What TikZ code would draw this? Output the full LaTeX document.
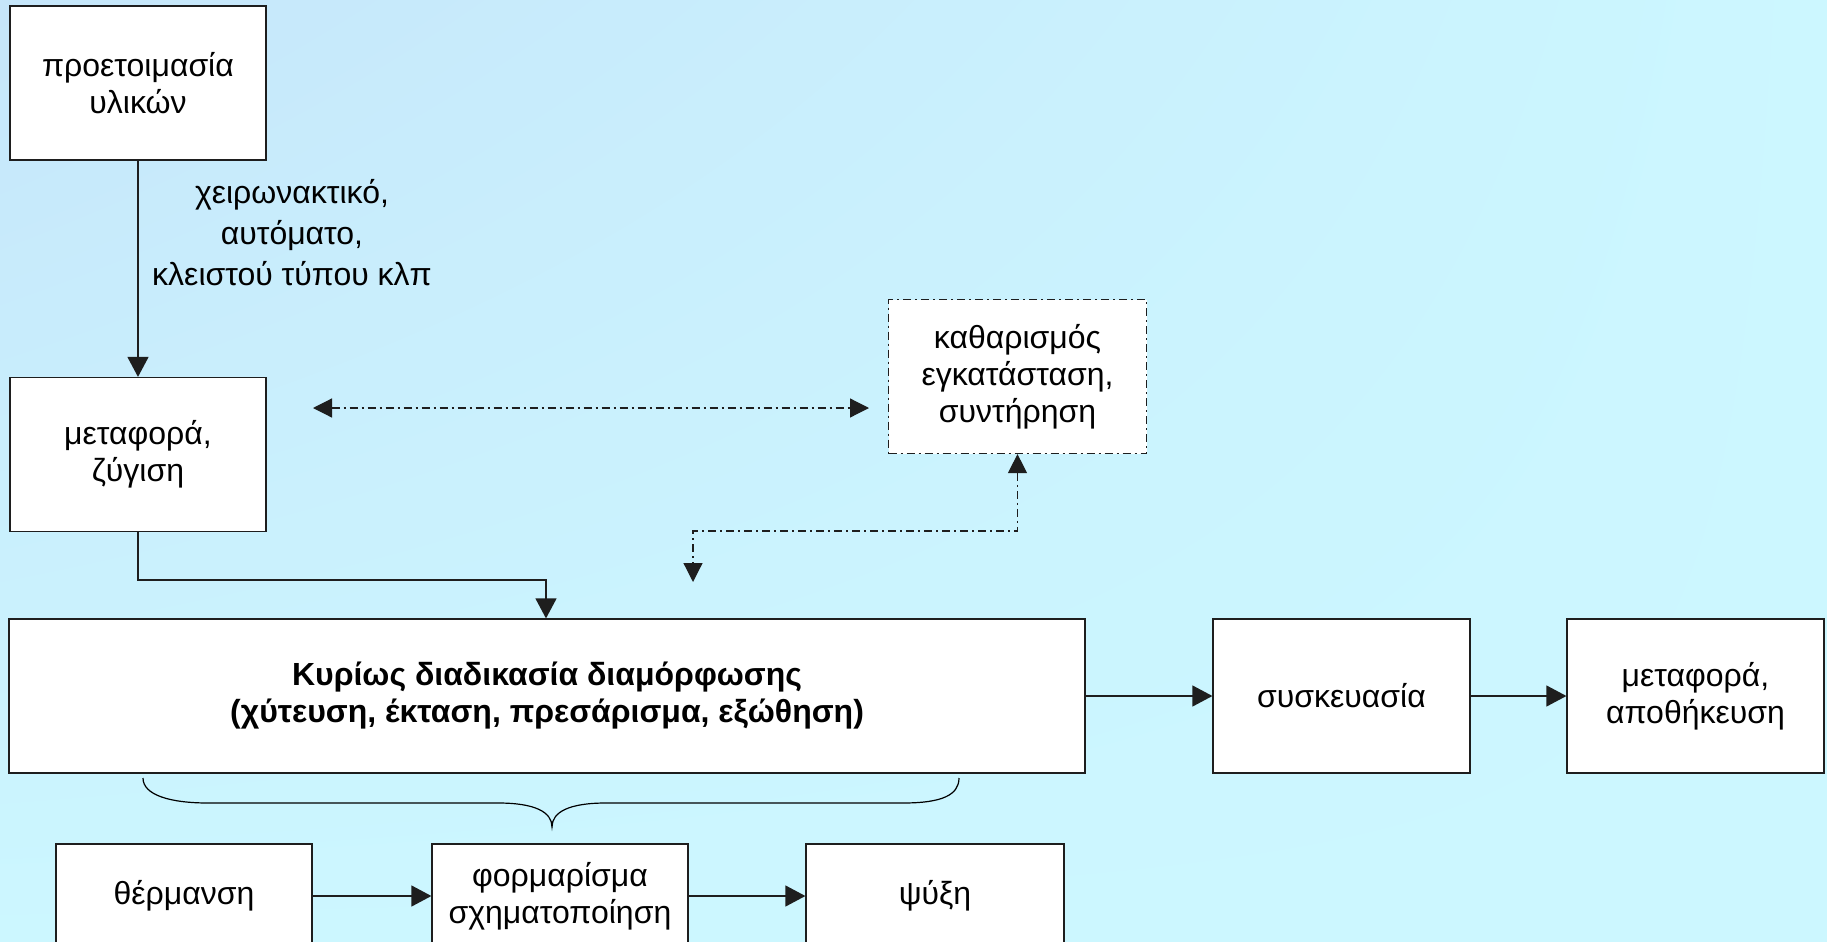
\documentclass[tikz,border=0pt]{standalone}
\usepackage{fontspec}
\setmainfont{Liberation Sans}
\usetikzlibrary{arrows.meta,shadings}
\definecolor{bgblue}{RGB}{198,230,250}
\definecolor{bgcyan}{RGB}{204,247,255}
\definecolor{edge}{RGB}{30,30,30}
\newcommand\boxfont{\fontsize{16}{18.5}\selectfont}
\newcommand\lblfont{\fontsize{16}{20.5}\selectfont}
\tikzset{
  box/.style={draw=edge, fill=white, line width=0.6pt, minimum width=128pt,
    minimum height=77pt, align=center, inner sep=0pt, font=\boxfont},
  lowbox/.style={box, minimum height=52pt},
  conn/.style={draw=edge, line width=0.6pt, -{Triangle[length=10pt,width=10.5pt]}},
  dashdotline/.style={draw=edge, line width=0.6pt, dash pattern=on 4pt off 2pt on 1pt off 2pt},
  dtip/.style={{Triangle[length=9.5pt,width=9.5pt]}-{Triangle[length=9.5pt,width=9.5pt]}},
  labeltext/.style={align=center, font=\lblfont, inner sep=0pt}
}
\begin{document}
\begin{tikzpicture}[x=0.5pt,y=-0.5pt]
\useasboundingbox (0,0) rectangle (1827,942);
\clip (0,0) rectangle (1827,942);
\shade[upper left=bgblue, upper right=bgcyan, lower left=bgcyan, lower right=bgcyan]
  (0,0) rectangle (1827,942);

% boxes
\node[box] (prep) at (138,83) {προετοιμασία\\υλικών};
\node[box] (weigh) at (138,454.5) {μεταφορά,\\ζύγιση};
\node[box, dashdotline, minimum width=129pt] (clean) at (1017.5,376.5) {καθαρισμός\\εγκατάσταση,\\συντήρηση};
\node[box, minimum width=538pt, font=\boxfont\bfseries] (main) at (547,696) {Κυρίως διαδικασία διαμόρφωσης\\(χύτευση, έκταση, πρεσάρισμα, εξώθηση)};
\node[box, minimum width=128.5pt] (pack) at (1341.5,696) {συσκευασία};
\node[box, minimum width=128.5pt] (store) at (1695.5,696) {μεταφορά,\\αποθήκευση};
\node[lowbox] (heat) at (184,896) {θέρμανση};
\node[lowbox] (form) at (560,896) {φορμαρίσμα\\σχηματοποίηση};
\node[lowbox, minimum width=129pt] (cool) at (935,896) {ψύξη};

% label
\node[labeltext] (lbl) at (292,233) {χειρωνακτικό,\\αυτόματο,\\κλειστού τύπου κλπ};

% connectors
\draw[conn] (prep.south) -- (weigh.north);
\coordinate (j1) at (546,580);
\draw[conn] (weigh.south) |- (j1) -- (j1 |- main.north);
\draw[conn] (main.east) -- (pack.west);
\draw[conn] (pack.east) -- (store.west);
\draw[conn] (heat.east) -- (form.west);
\draw[conn] (form.east) -- (cool.west);

% dash-dot connectors
\coordinate (dl) at (313,408);
\coordinate (dr) at (869,408);
\draw[dashdotline, dtip] (dl) -- (dr);
\coordinate (dk) at (693,531);
\coordinate (dt) at (693,582);
\draw[dashdotline, dtip] (clean.south) |- (dk) -- (dt);

% brace
\draw[draw=black, line width=0.6pt]
  (143,778) .. controls (143,795) and (170,803) .. (208,803)
  -- (498,803) .. controls (535,803) and (552,812) .. (552,827)
  .. controls (552,812) and (569,803) .. (606,803)
  -- (903,803) .. controls (942,803) and (959,795) .. (959,778);
\end{tikzpicture}
\end{document}
